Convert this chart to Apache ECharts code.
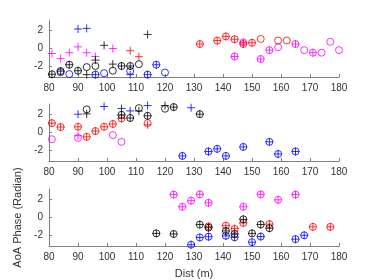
<!DOCTYPE html>
<html>
<head>
<meta charset="utf-8">
<script src="https://cdn.jsdelivr.net/npm/echarts@6/dist/echarts.min.js"></script>
<style>html,body{margin:0;padding:0;background:#fff;}#c{width:374px;height:280px;}</style>
</head>
<body>
<div id="c"></div>
<script>
// ---- tick labels ----
const xTicks = [80, 90, 100, 110, 120, 130, 140, 150, 160, 170, 180];
const yTicks = [-2, 0, 2];
const xLabel = 'Dist (m)';
const yLabel = 'AoA Phase (Radian)';

// ---- subplot 1 (top) ----
const s1_blackO = [[81,-2.84],[84,-2.49],[87,-1.79],[90,-2.45],[93,-2.05],[96,-1.93],[102,-2.45],[105,-1.93],[108,-1.93],[111,-1.73]];
const s1_blackP = [[81,-2.84],[84,-2.49],[87,-1.79],[90,-2.45],[93,-2.88],[96,-1.28],[99,0.35],[102,-1.72],[105,-1.93],[108,-1.93],[114,1.55]];
const s1_blueO = [[84,-2.62],[87,-2.82],[96,-2.88],[99,-2.72],[108,-2.47],[114,-2.88],[117,-1.79],[120,-2.65]];
const s1_blueP = [[90,2.15],[93,2.22],[96,-2.88],[108,-2.88],[114,-2.88],[117,-1.79]];
const s1_magentaO = [[144,-0.88],[147,0.67],[153,-1.16],[156,-0.18],[159,0.14],[165,0.49],[168,-0.18],[171,-0.46],[174,-0.46],[177,0.74],[180,-0.18]];
const s1_magentaP = [[81,-0.55],[84,-1.12],[87,-0.46],[90,0.18],[93,-0.46],[96,-0.88],[102,0.0],[144,-0.88],[147,0.67],[153,-1.16],[156,-0.18],[165,0.49],[171,-0.46]];
const s1_redO = [[132,0.49],[138,0.87],[141,1.33],[144,1.02],[147,0.49],[150,0.63],[153,1.05],[159,0.88],[162,0.88]];
const s1_redP = [[108,-0.24],[111,-0.9],[132,0.49],[138,0.87],[141,1.33],[144,1.02],[147,0.49],[150,0.63]];

// ---- subplot 2 (middle) ----
const s2_blackO = [[93,2.55],[105,1.95],[108,1.6],[111,2.69],[114,1.84],[120,2.62],[123,2.8],[132,2.02]];
const s2_blackP = [[93,2.05],[105,1.95],[108,1.6],[111,2.37],[114,1.84],[120,2.97],[123,2.8],[132,2.02]];
const s2_blueO = [[126,-2.58],[135,-2.09],[138,-1.8],[141,-2.58],[147,-1.59],[156,-1.03],[159,-2.37],[165,-2.09]];
const s2_blueP = [[90,2.02],[99,2.87],[105,2.65],[108,2.38],[114,2.97],[129,2.73],[126,-2.58],[135,-2.09],[138,-1.8],[141,-2.58],[147,-1.59],[156,-1.03],[159,-2.37],[165,-2.09]];
const s2_magentaO = [[81,-0.74],[90,-0.6],[102,-0.28],[105,-1.03]];
const s2_magentaP = [[90,-0.35]];
const s2_redO = [[81,1.03],[84,0.6],[90,0.63],[93,-0.48],[96,0.16],[99,0.63],[102,0.94],[105,1.55],[114,1.03]];
const s2_redP = [[81,1.03],[84,0.6],[90,0.63],[93,-0.48],[96,0.16],[99,0.63],[102,0.94],[105,1.55],[114,0.85]];

// ---- subplot 3 (bottom) ----
const s3_blackO = [[117,-1.75],[123,-1.82],[132,-0.78],[135,-1.12],[141,-1.48],[144,-1.8],[147,-0.2],[150,-1.75],[153,-0.77],[156,-1.18]];
const s3_blackP = s3_blackO;
const s3_blueO = [[129,-3.0],[132,-2.2],[135,-2.12],[141,-2.02],[144,-2.18],[150,-2.72],[153,-2.1],[165,-2.39],[168,-1.96]];
const s3_blueP = s3_blueO;
const s3_magentaO = [[123,2.53],[126,1.18],[129,1.86],[132,2.55],[135,1.62],[147,1.18],[153,2.55],[159,1.95],[165,2.53]];
const s3_magentaP = s3_magentaO;
const s3_redO = [[135,-0.98],[141,-0.9],[144,-1.27],[147,-0.6],[156,-0.73],[171,-1.03],[177,-1.03]];
const s3_redP = [[135,-0.98],[141,-0.9],[144,-1.2],[147,-0.6],[156,-0.73],[171,-1.03],[177,-1.03]];

const COLORS = {black:'#000000', blue:'#0000ff', magenta:'#ff00ff', red:'#ff0000'};
const PLUS = 'path://M5,0L5,10M0,5L10,5';

const subplots = [
  {magenta:[s1_magentaO,s1_magentaP], red:[s1_redO,s1_redP], blue:[s1_blueO,s1_blueP], black:[s1_blackO,s1_blackP]},
  {magenta:[s2_magentaO,s2_magentaP], red:[s2_redO,s2_redP], blue:[s2_blueO,s2_blueP], black:[s2_blackO,s2_blackP]},
  {magenta:[s3_magentaO,s3_magentaP], red:[s3_redO,s3_redP], blue:[s3_blueO,s3_blueP], black:[s3_blackO,s3_blackP]}
];

const gridTops = [20, 104, 189];
const grids = [], xAxes = [], yAxes = [], series = [];
const axisColor = '#808080', textColor = '#333333';
const FONT = 'Liberation Sans, Arial, sans-serif';

gridTops.forEach((t, i) => {
  grids.push({left: 49, width: 290, top: t, height: 57, containLabel: false});
  xAxes.push({
    type: 'value', gridIndex: i, min: 80, max: 180, interval: 10,
    axisLine: {show: true, onZero: false, lineStyle: {color: axisColor, width: 1}},
    axisTick: {show: true, inside: true, length: 3, lineStyle: {color: axisColor}},
    axisLabel: {color: textColor, fontSize: 10, fontFamily: FONT, margin: 6,
      customValues: xTicks},
    splitLine: {show: false},
    name: i === 2 ? xLabel : '', nameLocation: 'middle', nameGap: 22,
    nameTextStyle: {color: textColor, fontSize: 11, fontFamily: FONT}
  });
  yAxes.push({
    type: 'value', gridIndex: i, min: -Math.PI, max: Math.PI,
    axisLine: {show: true, onZero: false, lineStyle: {color: axisColor, width: 1}},
    axisTick: {show: true, inside: true, length: 3, lineStyle: {color: axisColor}, customValues: yTicks},
    axisLabel: {color: textColor, fontSize: 10, fontFamily: FONT, margin: 6, customValues: yTicks},
    splitLine: {show: false},
    name: i === 2 ? yLabel : '', nameLocation: 'middle', nameGap: 17, nameRotate: 90,
    nameTextStyle: {color: textColor, fontSize: 11, fontFamily: FONT}
  });
  ['magenta','red','blue','black'].forEach(c => {
    const [o, p] = subplots[i][c];
    series.push({type:'scatter', xAxisIndex:i, yAxisIndex:i, data:o, symbol:'circle', symbolSize:7,
      itemStyle:{color:'rgba(0,0,0,0)', borderColor:COLORS[c], borderWidth:1}, silent:true, animation:false});
    series.push({type:'scatter', xAxisIndex:i, yAxisIndex:i, data:p, symbol:PLUS, symbolSize:8,
      itemStyle:{color:'rgba(0,0,0,0)', borderColor:COLORS[c], borderWidth:1}, silent:true, animation:false});
  });
});

const chart = echarts.init(document.getElementById('c'), null, {renderer:'canvas'});
chart.setOption({animation:false, grid:grids, xAxis:xAxes, yAxis:yAxes, series:series});
</script>
</body>
</html>
